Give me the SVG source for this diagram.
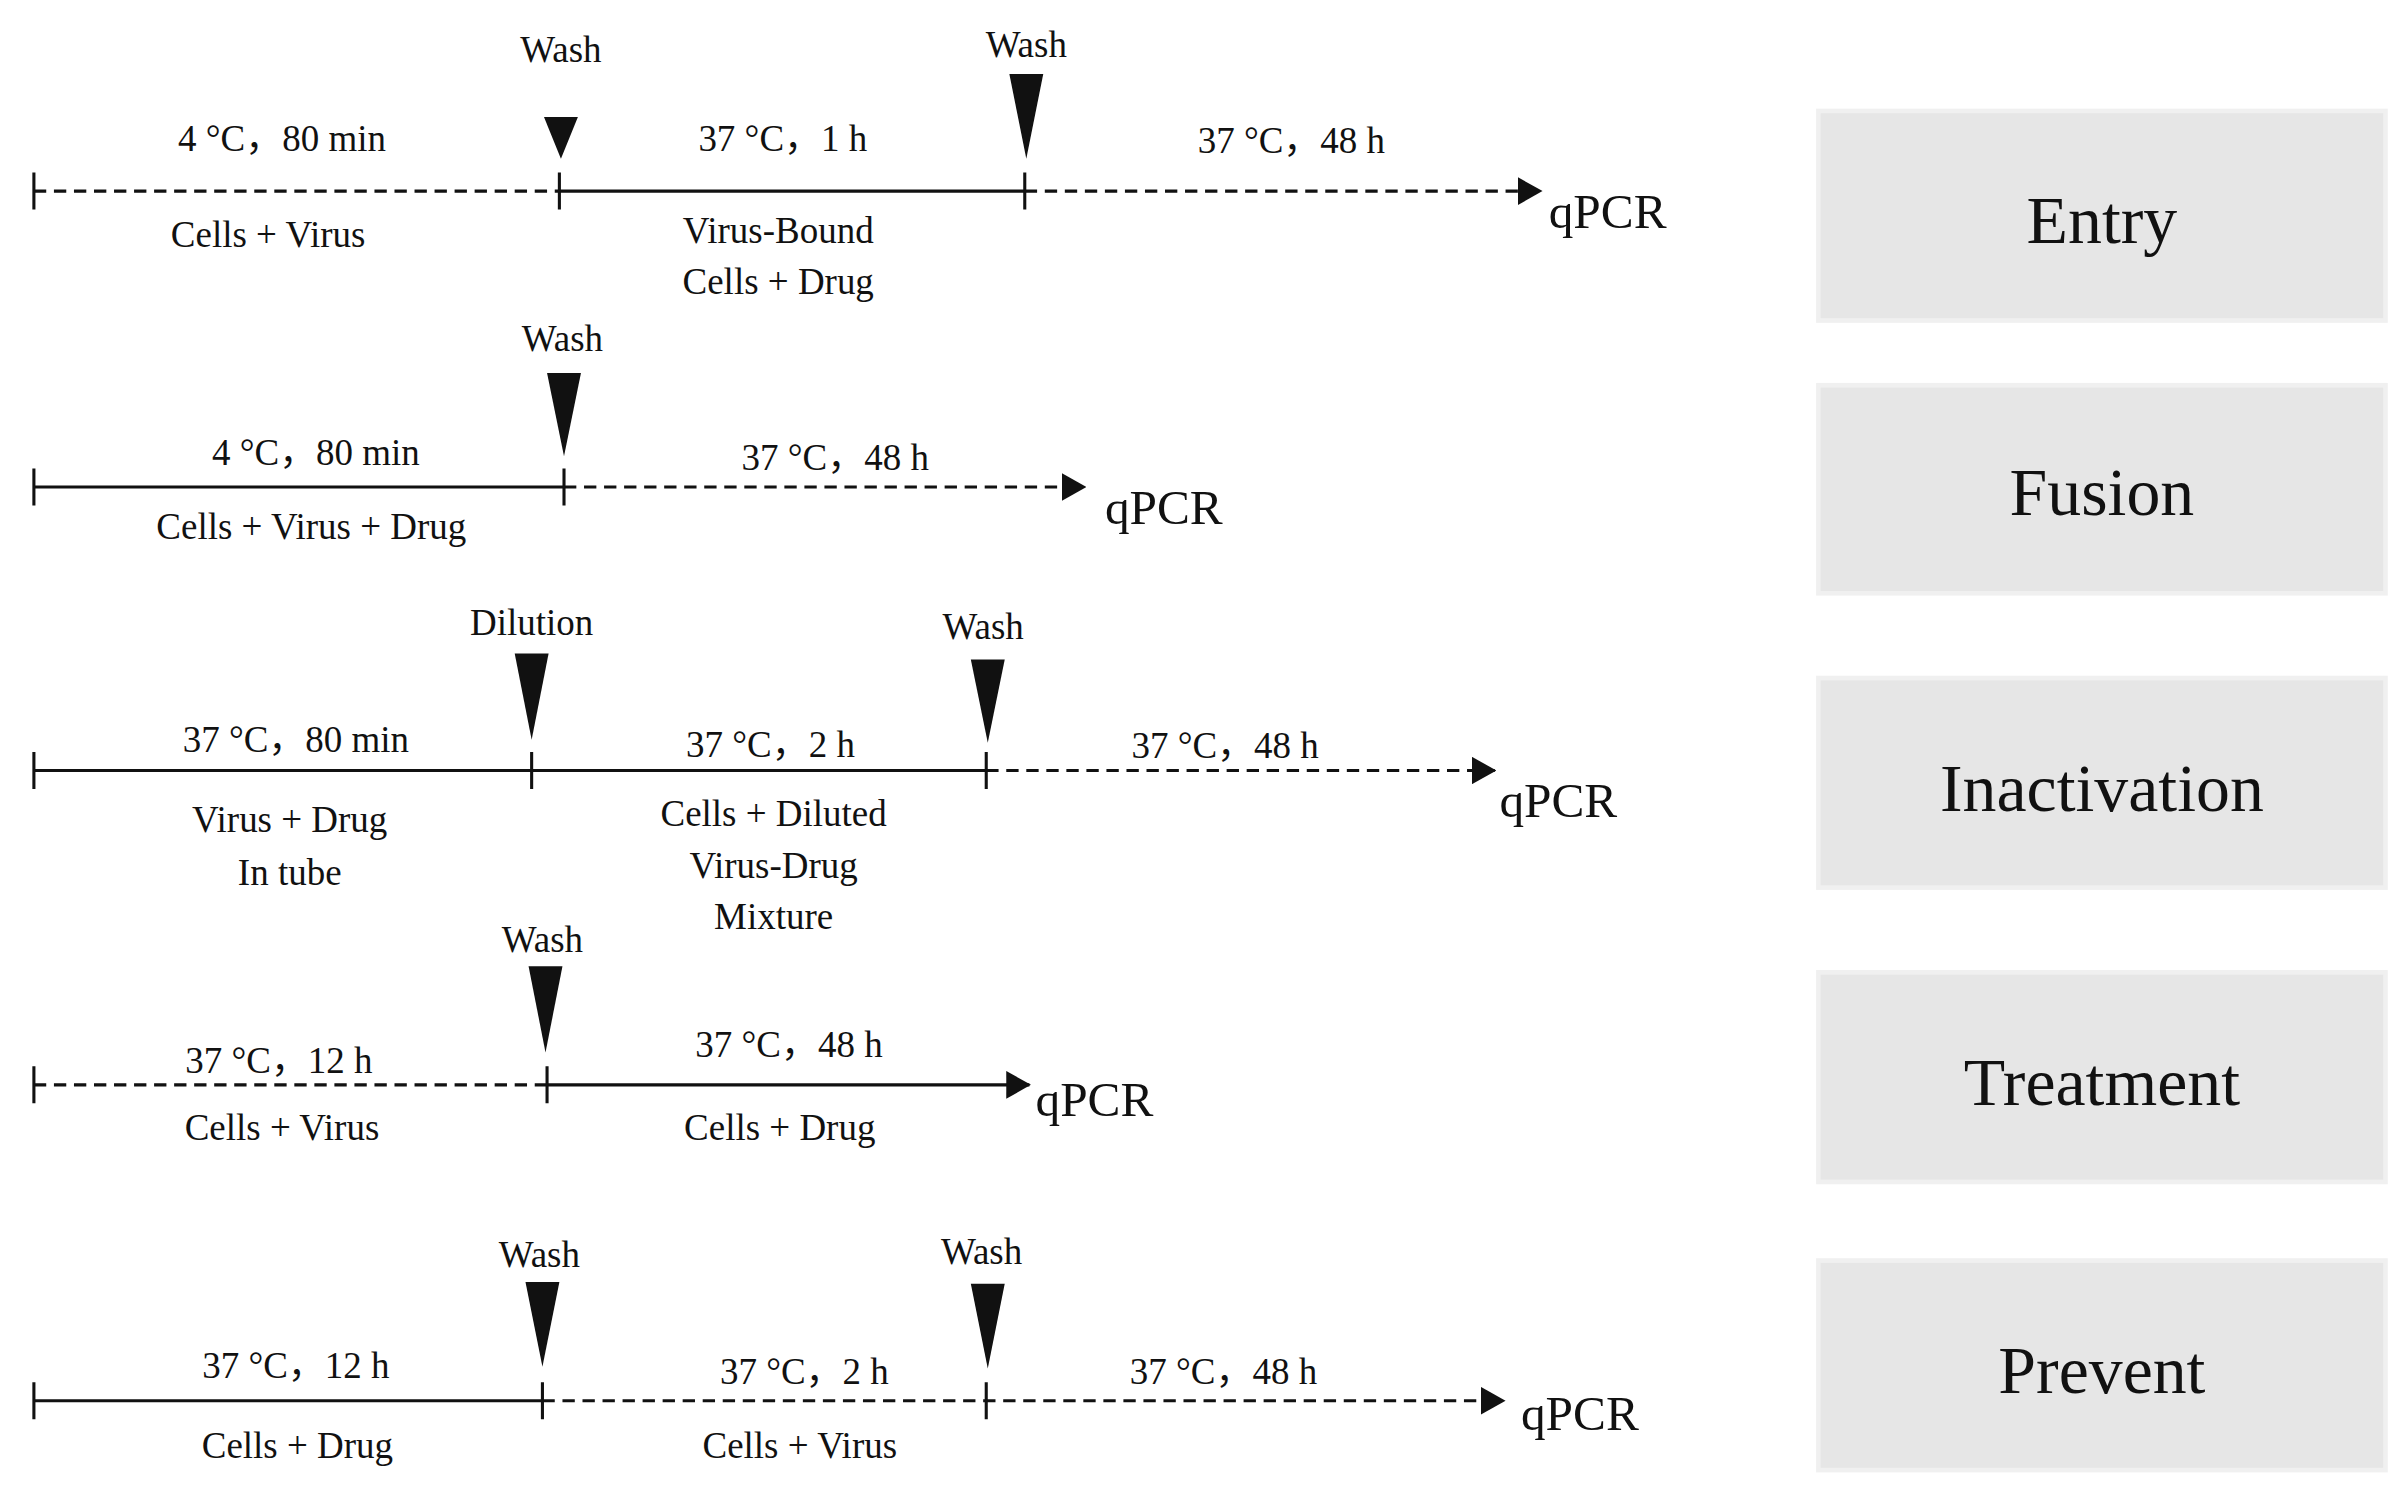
<svg xmlns="http://www.w3.org/2000/svg" width="2404" height="1500" viewBox="0 0 2404 1500">
<style>
text{font-family:"Liberation Serif","Noto Sans CJK SC",serif;fill:#111;text-anchor:middle}
.l{font-size:24px}.q{font-size:32px;text-anchor:start}.b{font-size:44px}
.s{stroke:#111;stroke-width:2;fill:none}.d{stroke:#111;stroke-width:2;fill:none;stroke-dasharray:8 5}
.box{fill:#e6e6e6;stroke:#f0f0f0;stroke-width:3}
.tri{fill:#111}
</style>
<defs><marker id="ah" markerUnits="userSpaceOnUse" markerWidth="16" markerHeight="18" refX="15" refY="9" orient="auto"><path d="M0,0L16,9L0,18Z" fill="#111"/></marker></defs>
<rect width="2404" height="1500" fill="#fff"/>
<g transform="scale(1.541)">
<g id="connectors">
<path class="d" d="M22,124H363"/><path class="s" d="M363,124H665"/><path class="d" d="M665,124H1000" marker-end="url(#ah)"/>
<path class="s" d="M22,112V136M363,112V136M665,112V136"/>
<path class="s" d="M22,316H366"/><path class="d" d="M366,316H704" marker-end="url(#ah)"/>
<path class="s" d="M22,304V328M366,304V328"/>
<path class="s" d="M22,500H640"/><path class="d" d="M640,500H970" marker-end="url(#ah)"/>
<path class="s" d="M22,488V512M345,488V512M640,488V512"/>
<path class="d" d="M22,704H355"/><path class="s" d="M355,704H668" marker-end="url(#ah)"/>
<path class="s" d="M22,692V716M355,692V716"/>
<path class="s" d="M22,909H352"/><path class="d" d="M352,909H976" marker-end="url(#ah)"/>
<path class="s" d="M22,897V921M352,897V921M640,897V921"/>
</g>
<g id="markers">
<path class="tri" d="M353,76H375L364,103Z"/><path class="tri" d="M655,48H677L666,103Z"/>
<path class="tri" d="M355,242H377L366,296Z"/>
<path class="tri" d="M334,424H356L345,480Z"/><path class="tri" d="M630,428H652L641,482Z"/>
<path class="tri" d="M343,627H365L354,683Z"/>
<path class="tri" d="M341,832H363L352,887Z"/><path class="tri" d="M630,833H652L641,888Z"/>
</g>
<g id="row-entry">
<text class="l" x="364" y="40">Wash</text><text class="l" x="666" y="37">Wash</text>
<text class="l" x="183" y="98">4 °C，80 min</text><text class="l" x="174" y="160">Cells + Virus</text>
<text class="l" x="508" y="98">37 °C，1 h</text><text class="l" x="505" y="158">Virus-Bound</text><text class="l" x="505" y="191">Cells + Drug</text>
<text class="l" x="838" y="99">37 °C，48 h</text><text class="q" x="1005" y="148">qPCR</text>
</g>
<g id="row-fusion">
<text class="l" x="365" y="228">Wash</text>
<text class="l" x="205" y="302">4 °C，80 min</text><text class="l" x="202" y="350">Cells + Virus + Drug</text>
<text class="l" x="542" y="305">37 °C，48 h</text><text class="q" x="717" y="340">qPCR</text>
</g>
<g id="row-inactivation">
<text class="l" x="345" y="412">Dilution</text><text class="l" x="638" y="415">Wash</text>
<text class="l" x="192" y="488">37 °C，80 min</text><text class="l" x="188" y="540">Virus + Drug</text><text class="l" x="188" y="574">In tube</text>
<text class="l" x="500" y="491">37 °C，2 h</text><text class="l" x="502" y="536">Cells + Diluted</text><text class="l" x="502" y="570">Virus-Drug</text><text class="l" x="502" y="603">Mixture</text>
<text class="l" x="795" y="492">37 °C，48 h</text><text class="q" x="973" y="530">qPCR</text>
</g>
<g id="row-treatment">
<text class="l" x="352" y="618">Wash</text>
<text class="l" x="181" y="696">37 °C，12 h</text><text class="l" x="183" y="740">Cells + Virus</text>
<text class="l" x="512" y="686">37 °C，48 h</text><text class="l" x="506" y="740">Cells + Drug</text>
<text class="q" x="672" y="724">qPCR</text>
</g>
<g id="row-prevent">
<text class="l" x="350" y="822">Wash</text><text class="l" x="637" y="820">Wash</text>
<text class="l" x="192" y="894">37 °C，12 h</text><text class="l" x="193" y="946">Cells + Drug</text>
<text class="l" x="522" y="898">37 °C，2 h</text><text class="l" x="519" y="946">Cells + Virus</text>
<text class="l" x="794" y="898">37 °C，48 h</text><text class="q" x="987" y="928">qPCR</text>
</g>
<g id="box-entry"><rect class="box" x="1180" y="72" width="368" height="136"/><text class="b" x="1364" y="158">Entry</text></g>
<g id="box-fusion"><rect class="box" x="1180" y="250" width="368" height="135"/><text class="b" x="1364" y="334">Fusion</text></g>
<g id="box-inactivation"><rect class="box" x="1180" y="440" width="368" height="136"/><text class="b" x="1364" y="526">Inactivation</text></g>
<g id="box-treatment"><rect class="box" x="1180" y="631" width="368" height="136"/><text class="b" x="1364" y="717">Treatment</text></g>
<g id="box-prevent"><rect class="box" x="1180" y="818" width="368" height="136"/><text class="b" x="1364" y="904">Prevent</text></g>
</g>
</svg>
